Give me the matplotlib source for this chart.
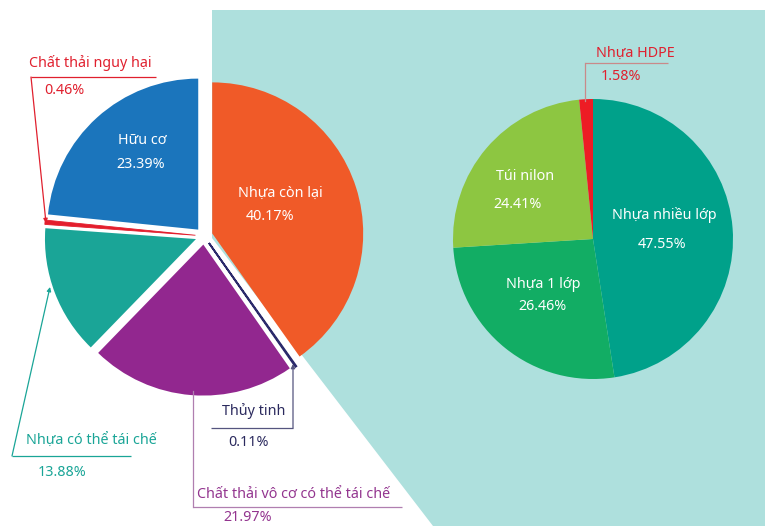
import matplotlib
matplotlib.use("Agg")
import matplotlib.pyplot as plt
from matplotlib.patches import Polygon

plt.rcParams['font.family'] = ['Noto Sans', 'DejaVu Sans']

W, H = 765, 526

# Thành phần chất thải (%) - vòng trái, theo chiều kim đồng hồ từ đỉnh
waste_labels = ['Nhựa còn lại', 'Thủy tinh', 'Chất thải vô cơ có thể tái chế',
                'Nhựa có thể tái chế', 'Chất thải nguy hại', 'Hữu cơ']
waste_values = [40.17, 0.11, 21.97, 13.88, 0.46, 23.39]
waste_colors = ['#F05A28', '#2B2A6B', '#92278F', '#1AA597', '#E31E2D', '#1B75BC']

# Chi tiết phần nhựa còn lại (%) - vòng phải
plastic_labels = ['Nhựa nhiều lớp', 'Nhựa 1 lớp', 'Túi nilon', 'Nhựa HDPE']
plastic_values = [47.55, 26.46, 24.41, 1.58]
plastic_colors = ['#00A18A', '#12AD64', '#8DC641', '#ED1C24']

fig = plt.figure(figsize=(W / 100, H / 100), dpi=100)
ax = fig.add_axes([0, 0, 1, 1])


def P(x, y):
    # toạ độ pixel (gốc trên-trái) -> toạ độ dữ liệu
    return (x, H - y)


# nền xanh nhạt cho phần mở rộng
bg = Polygon([P(212, 10), P(765, 10), P(765, 526), P(433, 526), P(212, 238)],
             closed=True, facecolor='#AEE0DD', edgecolor='none', zorder=0)
ax.add_patch(bg)

# vòng trái
wedges_l, _ = ax.pie(waste_values, colors=waste_colors, startangle=90,
                     counterclock=False, center=P(204, 236), radius=151,
                     explode=[8.6] * len(waste_values),
                     wedgeprops=dict(linewidth=0))
wedges_l[1].set_edgecolor('#2B2A6B')
wedges_l[1].set_linewidth(1.3)
wedges_l[4].set_edgecolor('#E31E2D')
wedges_l[4].set_linewidth(0.6)

# vòng phải
ax.pie(plastic_values, colors=plastic_colors, startangle=90,
       counterclock=False, center=P(593, 239), radius=140,
       wedgeprops=dict(linewidth=0))

ax.set_xlim(0, W)
ax.set_ylim(0, H)
ax.set_aspect('equal')
ax.axis('off')

fs = 10.3


def txt(x, y, s, color, ha='left', va='center'):
    ax.text(*P(x, y), s, color=color, fontsize=fs, ha=ha, va=va,
            fontweight='medium', zorder=5)


def leader(points, color, arrow=True):
    pts = [P(*p) for p in points]
    xs, ys = zip(*pts[:-1])
    ax.plot(xs, ys, color=color, lw=0.9, zorder=4, solid_capstyle='butt')
    if arrow:
        ax.annotate('', xy=pts[-1], xytext=pts[-2],
                    arrowprops=dict(arrowstyle='-|>', color=color, lw=0.9,
                                    mutation_scale=6, shrinkA=0, shrinkB=0),
                    zorder=4)
    else:
        ax.plot([pts[-2][0], pts[-1][0]], [pts[-2][1], pts[-1][1]],
                color=color, lw=0.9, zorder=4)


# nhãn bên trong lát
white = 'white'
txt(142, 140, 'Hữu cơ', white, ha='center')
txt(141, 164, f'{waste_values[5]:.2f}%', white, ha='center')
txt(238, 193, waste_labels[0], white)
txt(246, 216, f'{waste_values[0]:.2f}%', white)

txt(525, 177, plastic_labels[2], white, ha='center')
txt(518, 205, f'{plastic_values[2]:.2f}%', white, ha='center')
txt(664, 215, plastic_labels[0], white, ha='center')
txt(662, 245, f'{plastic_values[0]:.2f}%', white, ha='center')
txt(543, 285, plastic_labels[1], white, ha='center')
txt(543, 306, f'{plastic_values[1]:.2f}%', white, ha='center')

# nhãn có đường dẫn
red = '#E0202E'
txt(29, 63, waste_labels[4], red)
txt(44, 90, f'{waste_values[4]:.2f}%', red)
leader([(156, 77), (31, 77), (46, 223)], red)

teal = '#1AA597'
txt(26, 441, waste_labels[3], teal)
txt(38, 472, f'{waste_values[3]:.2f}%', teal)
leader([(131, 456), (12, 456), (50, 287)], teal)

navy = '#2B2A5E'
txt(222, 411, waste_labels[1], navy)
txt(228, 442, f'{waste_values[1]:.2f}%', navy)
leader([(211, 428), (293, 428), (293, 364)], '#55557F')

purple = '#93358F'
txt(197, 494, waste_labels[2], purple)
ax.text(*P(223, 510), f'{waste_values[2]:.2f}%', color=purple, fontsize=fs,
        ha='left', va='top', fontweight='medium', zorder=5)
leader([(402, 507), (193, 507), (193, 391)], '#B07FB0', arrow=False)

txt(596, 53, plastic_labels[3], red)
txt(601, 77, f'{plastic_values[3]:.2f}%', red)
leader([(668, 63), (585, 63), (585, 101)], '#C98A8A', arrow=False)

fig.savefig('out.png', dpi=100)
